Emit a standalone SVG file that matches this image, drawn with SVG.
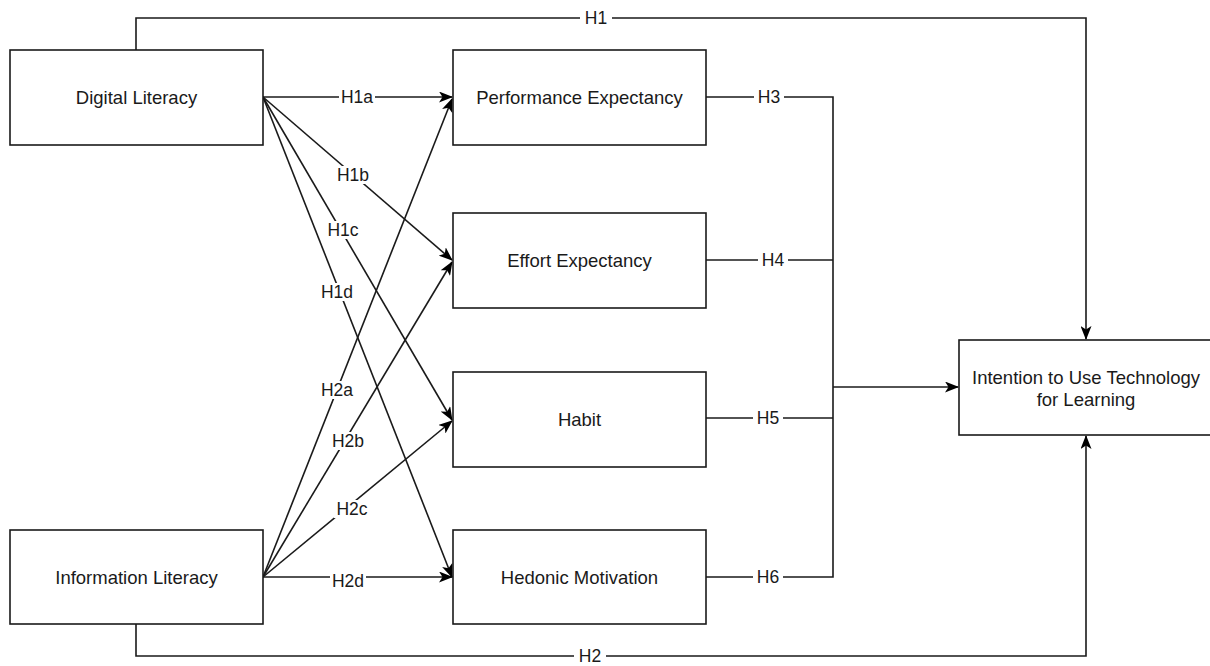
<svg xmlns="http://www.w3.org/2000/svg" width="1210" height="666" viewBox="0 0 1210 666">
<defs>
<style>
.box{fill:#fff;stroke:#1a1a1a;stroke-width:1.6}
.t{font-family:"Liberation Sans",Arial,sans-serif;font-size:18.5px;fill:#1a1a1a;text-anchor:middle;dominant-baseline:central}
.l{font-family:"Liberation Sans",Arial,sans-serif;font-size:17.5px;fill:#1a1a1a;text-anchor:middle;dominant-baseline:central}
.e{fill:none;stroke:#1a1a1a;stroke-width:1.6}
.a{marker-end:url(#arr)}
.bg{fill:#fff}
</style>
<marker id="arr" viewBox="0 0 14 11" refX="13" refY="5.5" markerWidth="14" markerHeight="11" markerUnits="userSpaceOnUse" orient="auto">
<path d="M0,0 L14,5.5 L0,11 L3.5,5.5 Z" fill="#000"/>
</marker>
</defs>
<rect width="1210" height="666" fill="#fff"/>
<g id="connectors">
<path class="e a" d="M136,50 V18 H1086 V339"/>
<path class="e a" d="M136,624 V656 H1086 V436"/>
<path class="e a" d="M263,97 H452"/>
<path class="e a" d="M263,97 L452,260"/>
<path class="e a" d="M263,97 L452,420"/>
<path class="e a" d="M263,97 L452,577"/>
<path class="e a" d="M263,577 L452,99"/>
<path class="e a" d="M263,577 L452,262"/>
<path class="e a" d="M263,577 L452,421"/>
<path class="e a" d="M263,577 H452"/>
<path class="e" d="M706,97 H833 V577 H706"/>
<path class="e" d="M706,260 H833"/>
<path class="e" d="M706,418 H833"/>
<path class="e a" d="M833,387 H958"/>
<g id="labels">
<rect class="bg" x="580" y="9" width="32" height="18"/><text class="l" x="596" y="18">H1</text>
<rect class="bg" x="574" y="647" width="32" height="18"/><text class="l" x="590" y="656">H2</text>
<rect class="bg" x="339" y="88" width="36" height="18"/><text class="l" x="357" y="97">H1a</text>
<rect class="bg" x="335" y="166" width="36" height="18"/><text class="l" x="353" y="175">H1b</text>
<rect class="bg" x="325" y="221" width="36" height="18"/><text class="l" x="343" y="230">H1c</text>
<rect class="bg" x="319" y="283" width="36" height="18"/><text class="l" x="337" y="292">H1d</text>
<rect class="bg" x="319" y="381" width="36" height="18"/><text class="l" x="337" y="390">H2a</text>
<rect class="bg" x="330" y="432" width="36" height="18"/><text class="l" x="348" y="441">H2b</text>
<rect class="bg" x="334" y="500" width="36" height="18"/><text class="l" x="352" y="509">H2c</text>
<rect class="bg" x="330" y="572" width="36" height="18"/><text class="l" x="348" y="581">H2d</text>
<rect class="bg" x="754" y="88" width="30" height="18"/><text class="l" x="769" y="97">H3</text>
<rect class="bg" x="758" y="251" width="30" height="18"/><text class="l" x="773" y="260">H4</text>
<rect class="bg" x="753" y="409" width="30" height="18"/><text class="l" x="768" y="418">H5</text>
<rect class="bg" x="753" y="568" width="30" height="18"/><text class="l" x="768" y="577">H6</text>
</g>
</g>
<g id="digital-literacy"><rect class="box" x="10" y="50" width="253" height="95"/><text class="t" x="136.5" y="97.5">Digital Literacy</text></g>
<g id="information-literacy"><rect class="box" x="10" y="530" width="253" height="94"/><text class="t" x="136.5" y="577">Information Literacy</text></g>
<g id="performance-expectancy"><rect class="box" x="453" y="50" width="253" height="95"/><text class="t" x="579.5" y="97.5">Performance Expectancy</text></g>
<g id="effort-expectancy"><rect class="box" x="453" y="213" width="253" height="95"/><text class="t" x="579.5" y="260.5">Effort Expectancy</text></g>
<g id="habit"><rect class="box" x="453" y="372" width="253" height="95"/><text class="t" x="579.5" y="419.5">Habit</text></g>
<g id="hedonic-motivation"><rect class="box" x="453" y="530" width="253" height="94"/><text class="t" x="579.5" y="577">Hedonic Motivation</text></g>
<g id="intention"><rect class="box" x="959" y="340" width="254" height="95"/><text class="t" x="1086" y="377">Intention to Use Technology</text><text class="t" x="1086" y="399">for Learning</text></g>
</svg>
